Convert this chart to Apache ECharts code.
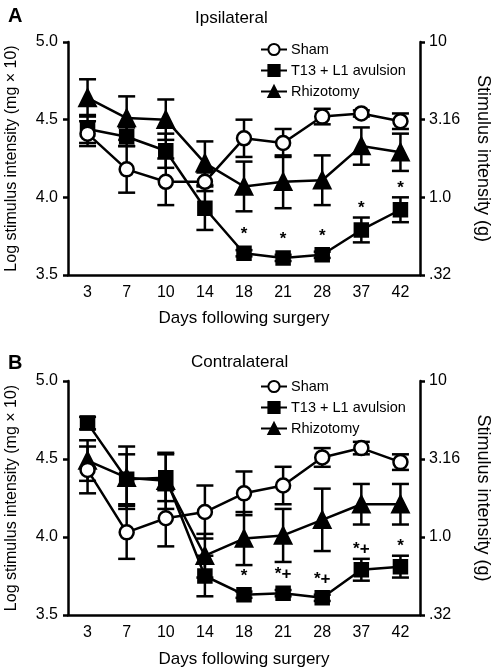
<!DOCTYPE html>
<html><head><meta charset="utf-8">
<script src="https://cdn.jsdelivr.net/npm/echarts@6/dist/echarts.min.js"></script>
<style>html,body{margin:0;padding:0;background:#fff}#c{width:494px;height:671px}</style>
</head><body><div id="c"></div>
<script>
var days = ['3','7','10','14','18','21','28','37','42'];
var rightTicks = {'3.5':'.32','4':'1.0','4.5':'3.16','5':'10'};

var shamA = [4.41, 4.18, 4.10, 4.10, 4.38, 4.35, 4.52, 4.54, 4.49];
var shamAErr = [0.08, 0.15, 0.15, 0.06, 0.12, 0.09, 0.05, 0.02, 0.05];
var avulA = [4.44, 4.39, 4.30, 3.93, 3.64, 3.61, 3.63, 3.79, 3.92];
var avulAErr = [0.09, 0.06, 0.11, 0.14, 0.02, 0.02, 0.02, 0.08, 0.08];
var rhizA = [4.64, 4.51, 4.50, 4.22, 4.07, 4.10, 4.11, 4.33, 4.29];
var rhizAErr = [0.12, 0.14, 0.13, 0.14, 0.16, 0.17, 0.16, 0.12, 0.12];
var annotA = ['', '', '', '', '*', '*', '*', '*', '*'];

var shamB = [4.43, 4.03, 4.12, 4.16, 4.28, 4.33, 4.51, 4.57, 4.48];
var shamBErr = [0.15, 0.17, 0.18, 0.17, 0.14, 0.12, 0.06, 0.04, 0.05];
var avulB = [4.73, 4.37, 4.38, 3.75, 3.63, 3.64, 3.61, 3.79, 3.81];
var avulBErr = [0.04, 0.16, 0.15, 0.13, 0.02, 0.02, 0.02, 0.07, 0.07];
var rhizB = [4.49, 4.38, 4.36, 3.88, 3.99, 4.01, 4.11, 4.21, 4.21];
var rhizBErr = [0.13, 0.20, 0.18, 0.14, 0.17, 0.17, 0.20, 0.13, 0.13];
var annotB = ['', '', '', '', '*', '*+', '*+', '*+', '*'];

var FONT = 'Liberation Sans, Arial, sans-serif';
var LW = 2.5;

function errSeries(vals, errs, xi, yi) {
  return {
    type: 'custom', xAxisIndex: xi, yAxisIndex: yi, z: 1, silent: true,
    data: vals.map(function (v, i) { return [i, v, errs[i]]; }),
    renderItem: function (params, api) {
      var x = api.value(0), v = api.value(1), e = api.value(2);
      var hi = api.coord([x, v + e]), lo = api.coord([x, v - e]);
      var hw = 8.5;
      var st = {stroke: '#000', lineWidth: LW};
      return {type: 'group', children: [
        {type: 'line', shape: {x1: hi[0], y1: hi[1], x2: lo[0], y2: lo[1]}, style: st},
        {type: 'line', shape: {x1: hi[0] - hw, y1: hi[1], x2: hi[0] + hw, y2: hi[1]}, style: st},
        {type: 'line', shape: {x1: lo[0] - hw, y1: lo[1], x2: lo[0] + hw, y2: lo[1]}, style: st}
      ]};
    }
  };
}
function annotSeries(vals, errs, labels, xi, yi) {
  return {
    type: 'custom', xAxisIndex: xi, yAxisIndex: yi, z: 5, silent: true,
    data: vals.map(function (v, i) { return [i, v, errs[i]]; }),
    renderItem: function (params, api) {
      var i = params.dataIndex;
      var lab = labels[i];
      if (!lab) return null;
      var x = api.value(0), v = api.value(1), e = api.value(2);
      var top = api.coord([x, v + e]);
      var off = e < 0.04 ? 7 : 1;
      return {type: 'text', x: top[0], y: top[1] - off, style: {
        text: lab, fill: '#000', font: 'bold 17px ' + FONT, align: 'center', verticalAlign: 'bottom'
      }};
    }
  };
}
function lineSeries(name, vals, sym, size, fill, xi, yi) {
  return {
    type: 'line', name: name, xAxisIndex: xi, yAxisIndex: yi, data: vals, z: 3,
    symbol: sym, symbolSize: size, showAllSymbol: true,
    lineStyle: {color: '#000', width: LW},
    itemStyle: {color: fill, borderColor: '#000', borderWidth: LW},
    emphasis: {disabled: true}
  };
}

var grids = [
  {left: 68, right: 74, top: 42, height: 233, containLabel: false, outerBoundsMode: 'none'},
  {left: 68, right: 74, top: 381, height: 234, containLabel: false, outerBoundsMode: 'none'}
];
function xAx(gi, gap) {
  return {
    type: 'category', gridIndex: gi, data: days, boundaryGap: true,
    axisLine: {lineStyle: {color: '#000', width: LW}},
    axisTick: {alignWithLabel: true, length: 5, lineStyle: {width: LW, color: '#000'}},
    axisLabel: {color: '#000', fontSize: 16, fontFamily: FONT, margin: 10},
    name: 'Days following surgery', nameLocation: 'middle', nameGap: gap,
    nameTextStyle: {color: '#000', fontSize: 17, fontFamily: FONT}
  };
}
function yLeft(gi) {
  return {
    type: 'value', gridIndex: gi, min: 3.5, max: 5.0, interval: 0.5, position: 'left',
    axisLine: {show: true, lineStyle: {color: '#000', width: LW}},
    axisTick: {show: true, length: 5, lineStyle: {width: LW, color: '#000'}},
    splitLine: {show: false},
    axisLabel: {color: '#000', fontSize: 16, fontFamily: FONT, margin: 10, formatter: function (v) { return v.toFixed(1); }},
    name: 'Log stimulus intensity (mg \u00d7 10)', nameLocation: 'middle', nameGap: 48,
    nameTextStyle: {color: '#000', fontSize: 16, fontFamily: FONT}
  };
}
function yRight(gi) {
  return {
    type: 'value', gridIndex: gi, min: 3.5, max: 5.0, interval: 0.5, position: 'right',
    axisLine: {show: true, lineStyle: {color: '#000', width: LW}},
    axisTick: {show: true, length: 5, lineStyle: {width: LW, color: '#000'}},
    splitLine: {show: false},
    axisLabel: {color: '#000', fontSize: 16, fontFamily: FONT, margin: 9, formatter: function (v) { return rightTicks[String(v)] || ''; }},
    name: 'Stimulus intensity (g)', nameLocation: 'middle', nameGap: 54, nameRotate: -90,
    nameTextStyle: {color: '#000', fontSize: 18, fontFamily: FONT}
  };
}
function legendAt(top) {
  return {
    orient: 'vertical', left: 255, top: top, itemGap: 6, itemWidth: 26, itemHeight: 14,
    data: ['Sham', 'T13 + L1 avulsion', 'Rhizotomy'],
    textStyle: {color: '#000', fontSize: 14.5, fontFamily: FONT, padding: [0, 0, 0, -1]},
    selectedMode: false
  };
}

var option = {
  animation: false,
  backgroundColor: '#fff',
  title: [
    {text: 'A', left: 3, top: 1, textStyle: {fontSize: 20, fontWeight: 'bold', fontFamily: FONT, color: '#000'}},
    {text: 'Ipsilateral', left: 190, top: 5, textStyle: {fontSize: 17, fontWeight: 'normal', fontFamily: FONT, color: '#000'}},
    {text: 'B', left: 3, top: 348, textStyle: {fontSize: 20, fontWeight: 'bold', fontFamily: FONT, color: '#000'}},
    {text: 'Contralateral', left: 186, top: 349, textStyle: {fontSize: 17, fontWeight: 'normal', fontFamily: FONT, color: '#000'}}
  ],
  legend: [legendAt(37), legendAt(374)],
  grid: grids,
  xAxis: [xAx(0, 35), xAx(1, 36)],
  yAxis: [yLeft(0), yRight(0), yLeft(1), yRight(1)],
  series: [
    errSeries(shamA, shamAErr, 0, 0),
    errSeries(avulA, avulAErr, 0, 0),
    errSeries(rhizA, rhizAErr, 0, 0),
    lineSeries('Rhizotomy', rhizA, 'triangle', 16, '#000', 0, 0),
    lineSeries('T13 + L1 avulsion', avulA, 'rect', 13, '#000', 0, 0),
    lineSeries('Sham', shamA, 'circle', 14, '#fff', 0, 0),
    annotSeries(avulA, avulAErr, annotA, 0, 0),

    errSeries(shamB, shamBErr, 1, 2),
    errSeries(avulB, avulBErr, 1, 2),
    errSeries(rhizB, rhizBErr, 1, 2),
    lineSeries('Rhizotomy', rhizB, 'triangle', 16, '#000', 1, 2),
    lineSeries('T13 + L1 avulsion', avulB, 'rect', 13, '#000', 1, 2),
    lineSeries('Sham', shamB, 'circle', 14, '#fff', 1, 2),
    annotSeries(avulB, avulBErr, annotB, 1, 2)
  ]
};
var chart = echarts.init(document.getElementById('c'), null, {renderer: 'canvas'});
chart.setOption(option);
</script>
</body></html>
